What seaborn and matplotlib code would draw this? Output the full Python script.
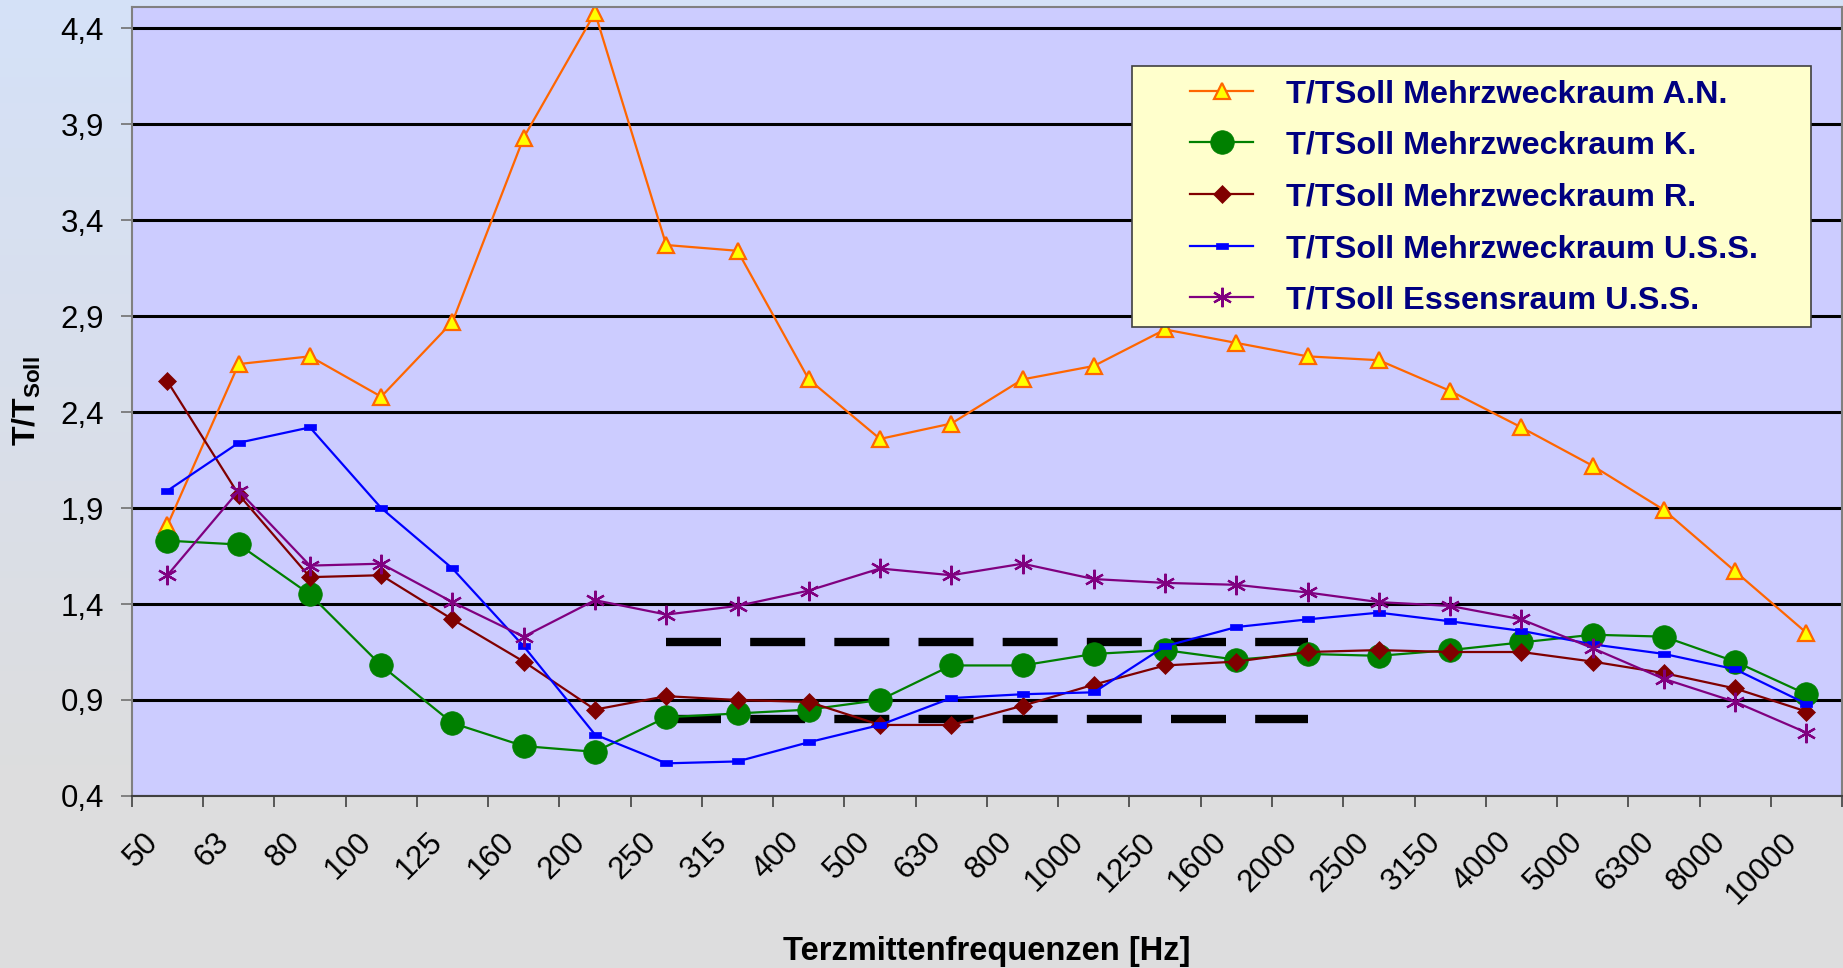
#!/usr/bin/env python3

# T/TSoll over third-octave centre frequencies

import numpy as np
import pandas as pd
import matplotlib
matplotlib.use("Agg")
import matplotlib.pyplot as plt
import seaborn as sns
from matplotlib.path import Path
from matplotlib.patches import Rectangle

plt.rcParams["font.family"] = "Liberation Sans"
plt.rcParams["mathtext.fontset"] = "custom"
plt.rcParams["mathtext.rm"] = "Liberation Sans"
plt.rcParams["mathtext.bf"] = "Liberation Sans:bold"

freqs = ["50", "63", "80", "100", "125", "160", "200", "250", "315", "400",
         "500", "630", "800", "1000", "1250", "1600", "2000", "2500", "3150",
         "4000", "5000", "6300", "8000", "10000"]

an = [1.81, 2.65, 2.69, 2.48, 2.87, 3.83, 4.48, 3.27, 3.24, 2.57, 2.26, 2.34,
      2.57, 2.64, 2.83, 2.76, 2.69, 2.67, 2.51, 2.32, 2.12, 1.89, 1.57, 1.25]
k = [1.73, 1.71, 1.45, 1.08, 0.78, 0.66, 0.63, 0.81, 0.83, 0.85, 0.90, 1.08,
     1.08, 1.14, 1.16, 1.11, 1.14, 1.13, 1.16, 1.20, 1.24, 1.23, 1.10, 0.93]
r = [2.56, 1.97, 1.54, 1.55, 1.32, 1.10, 0.85, 0.92, 0.90, 0.89, 0.77, 0.77,
     0.87, 0.98, 1.08, 1.10, 1.15, 1.16, 1.15, 1.15, 1.10, 1.04, 0.96, 0.84]
uss = [1.99, 2.24, 2.32, 1.90, 1.585, 1.18, 0.72, 0.57, 0.58, 0.68, 0.77, 0.91,
       0.93, 0.94, 1.18, 1.28, 1.32, 1.355, 1.31, 1.26, 1.19, 1.14, 1.06, 0.88]
ess = [1.55, 1.99, 1.60, 1.61, 1.41, 1.23, 1.42, 1.345, 1.39, 1.47, 1.585, 1.55,
       1.61, 1.53, 1.51, 1.50, 1.46, 1.41, 1.39, 1.32, 1.17, 1.01, 0.89, 0.73]

# tolerance band 250 Hz .. 2000 Hz
tol_freqs = ["250", "315", "400", "500", "630", "800", "1000", "1250", "1600", "2000"]
tol_upper = [1.2, 1.2, 1.2, 1.2, 1.2, 1.2, 1.2, 1.2, 1.2, 1.2]
tol_lower = [0.8, 0.8, 0.8, 0.8, 0.8, 0.8, 0.8, 0.8, 0.8, 0.8]

yticks = [0.4, 0.9, 1.4, 1.9, 2.4, 2.9, 3.4, 3.9, 4.4]

names = ["T/TSoll Mehrzweckraum A.N.", "T/TSoll Mehrzweckraum K.",
         "T/TSoll Mehrzweckraum R.", "T/TSoll Mehrzweckraum U.S.S.",
         "T/TSoll Essensraum U.S.S."]


def main():
    pos = {f: i for i, f in enumerate(freqs)}
    df = pd.DataFrame({
        "pos": [pos[f] for f in freqs] * 5,
        "value": an + k + r + uss + ess,
        "Series": sum([[n] * len(freqs) for n in names], []),
    })
    tol = pd.DataFrame({
        "pos": [pos[f] for f in tol_freqs] * 2,
        "value": tol_upper + tol_lower,
        "Band": ["upper"] * len(tol_freqs) + ["lower"] * len(tol_freqs),
    })

    fig = plt.figure(figsize=(18.43, 9.68), dpi=100)

    # background gradient (blue-ish top to grey bottom)
    bg = fig.add_axes([0, 0, 1, 1], zorder=-1)
    t = np.clip(np.linspace(0, 1, 300) / 0.8, 0, 1)[:, None, None]
    top = np.array([0.835, 0.884, 0.972])
    bottom = np.array([0.867, 0.867, 0.872])
    bg.imshow(top + (bottom - top) * t, aspect="auto", extent=[0, 1, 0, 1])
    bg.axis("off")

    ax = fig.add_axes([0.0715, 0.1777, 0.9280, 0.8151])
    ax.set_facecolor("#CCCCFF")

    for band in ["upper", "lower"]:
        sns.lineplot(data=tol[tol.Band == band], x="pos", y="value", ax=ax,
                     color="black", linewidth=6, linestyle=(0, (6.6, 3.5)),
                     errorbar=None, legend=False, sort=False)

    rect = Path([(-1, -0.55), (1, -0.55), (1, 0.55), (-1, 0.55), (-1, -0.55)])
    styles = [
        dict(color="#FF6600", marker="^", markersize=11, markerfacecolor="#FFFF00",
             markeredgecolor="#FF6600", markeredgewidth=1.6),
        dict(color="#008000", marker="o", markersize=17, markerfacecolor="#008000",
             markeredgecolor="#008000", markeredgewidth=0.5),
        dict(color="#800000", marker="D", markersize=9, markerfacecolor="#800000",
             markeredgecolor="#800000", markeredgewidth=0.5),
        dict(color="#0000FF", marker=rect, markersize=8, markerfacecolor="#0000FF",
             markeredgecolor="#0000FF", markeredgewidth=0.5),
        dict(color="#800080", marker=(6, 2, 0), markersize=14,
             markeredgecolor="#800080", markeredgewidth=1.6),
    ]
    handles = []
    for name, st in zip(names, styles):
        sns.lineplot(data=df[df.Series == name], x="pos", y="value", ax=ax,
                     linewidth=1.6, errorbar=None, legend=False, sort=False, **st)
        handles.append(ax.lines[-1])

    ax.set_xlim(-0.5, len(freqs) - 0.5)
    ax.set_ylim(0.4, 4.51)

    ax.set_yticks(yticks)
    ax.set_yticklabels([f"{v:.1f}".replace(".", ",") for v in yticks], fontsize=22.5)
    ax.yaxis.grid(True, color="black", linewidth=2.2)
    ax.set_axisbelow(True)
    ax.tick_params(axis="y", length=8, width=1.2, color="#707070", pad=12)

    ax.set_xticks(np.arange(len(freqs)) - 0.2)
    ax.set_xticklabels(freqs, fontsize=22.5, rotation=45, rotation_mode="anchor",
                       ha="right", va="center")
    ax.set_xticks(np.arange(len(freqs) + 1) - 0.5, minor=True)
    ax.tick_params(axis="x", which="major", length=0, pad=30)
    ax.tick_params(axis="x", which="minor", length=8, width=1.2, color="#404040")

    for s in ax.spines.values():
        s.set_color("#808080")
        s.set_linewidth(1.5)
    ax.spines["bottom"].set_color("#404040")

    ax.set_xlabel("Terzmittenfrequenzen [Hz]", fontsize=23.5, fontweight="bold")
    ax.xaxis.set_label_coords(0.5, -0.197)
    ax.xaxis.label.set_va("center")
    ax.set_ylabel(r"$\mathbf{T/T_{Soll}}$", fontsize=23)
    ax.yaxis.set_label_coords(-0.061, 0.5)
    ax.yaxis.label.set_va("center")

    frame = Rectangle((0.5849, 0.5944), 0.3970, 0.3308, transform=ax.transAxes,
                      facecolor="#FFFFCC", edgecolor="#404040", linewidth=1.2,
                      zorder=4)
    ax.add_patch(frame)
    leg = ax.legend(handles, names, loc="upper left", bbox_to_anchor=(0.6188, 0.9086),
                    frameon=False, borderpad=0, borderaxespad=0, handlelength=1.95,
                    handletextpad=1.0, labelspacing=0.67,
                    prop={"size": 23.3, "weight": "bold"}, labelcolor="#000080")
    leg.set_zorder(5)

    fig.savefig("out.png", dpi=100)


if __name__ == "__main__":
    main()
